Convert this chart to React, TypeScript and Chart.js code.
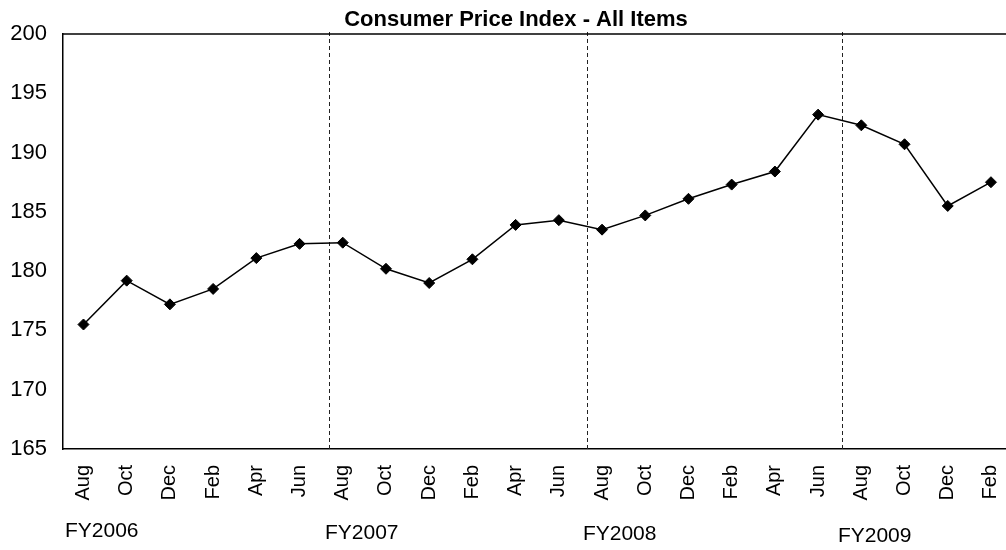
import { useEffect, useRef } from 'react';
import { Chart, registerables } from 'chart.js';

Chart.register(...registerables);

const chartTitle = 'Consumer Price Index - All Items';
const months = [
  'Aug', 'Oct', 'Dec', 'Feb', 'Apr', 'Jun',
  'Aug', 'Oct', 'Dec', 'Feb', 'Apr', 'Jun',
  'Aug', 'Oct', 'Dec', 'Feb', 'Apr', 'Jun',
  'Aug', 'Oct', 'Dec', 'Feb',
];
const cpiValues = [
  175.5, 179.2, 177.2, 178.5, 181.1, 182.3,
  182.4, 180.2, 179.0, 181.0, 183.9, 184.3,
  183.5, 184.7, 186.1, 187.3, 188.4, 193.2,
  192.3, 190.7, 185.5, 187.5,
];
const fiscalYears = ['FY2006', 'FY2007', 'FY2008', 'FY2009'];
// fiscal-year boundaries, in month-index units of the x axis
const fyBoundaries = [5.68, 11.65, 17.55];
const yTicks = [165, 170, 175, 180, 185, 190, 195, 200];

const FONT = '"Liberation Sans", Arial, Helvetica, sans-serif';

const decorPlugin = {
  id: 'decor',
  beforeDatasetsDraw(chart: any) {
    const { ctx, chartArea, scales } = chart;
    const x = scales.x;
    ctx.save();
    ctx.strokeStyle = '#222';
    ctx.lineWidth = 1;
    ctx.setLineDash([4, 3]);
    fyBoundaries.forEach((b) => {
      const px = Math.round(x.getPixelForValue(b)) + 0.5;
      ctx.beginPath();
      ctx.moveTo(px, chartArea.top - 2);
      ctx.lineTo(px, chartArea.bottom);
      ctx.stroke();
    });
    ctx.setLineDash([]);
    ctx.strokeStyle = '#000';
    ctx.lineWidth = 1.5;
    ctx.beginPath();
    ctx.moveTo(chartArea.left, chartArea.top);
    ctx.lineTo(chartArea.right, chartArea.top);
    ctx.stroke();
    ctx.restore();
  },
  afterDraw(chart: any) {
    const { ctx, chartArea, scales } = chart;
    const x = scales.x;
    ctx.save();
    ctx.fillStyle = '#000';
    ctx.textBaseline = 'alphabetic';
    ctx.textAlign = 'center';
    ctx.font = `bold 22px ${FONT}`;
    ctx.fillText(chartTitle, 516, 26);
    ctx.textAlign = 'left';
    ctx.font = `21px ${FONT}`;
    fiscalYears.forEach((fy, i) => {
      const px = i === 0 ? chartArea.left + 2 : x.getPixelForValue(fyBoundaries[i - 1]) - 4;
      ctx.fillText(fy, px, 537 + i * 1.5);
    });
    ctx.restore();
  },
};

export default function App() {
  const ref = useRef<HTMLCanvasElement>(null);

  useEffect(() => {
    if (!ref.current) return;
    const chart = new Chart(ref.current, {
      type: 'line',
      data: {
        datasets: [
          {
            data: cpiValues.map((v, i) => ({ x: i, y: v })),
            borderColor: '#000',
            backgroundColor: '#000',
            borderWidth: 1.5,
            tension: 0,
            pointStyle: 'rectRot',
            pointRadius: 5.5,
            pointBorderWidth: 1,
            pointBackgroundColor: '#000',
            pointBorderColor: '#000',
          },
        ],
      },
      options: {
        animation: false,
        responsive: false,
        events: [],
        layout: { autoPadding: false, padding: { top: 34, left: 0, right: 0, bottom: 0 } },
        plugins: {
          legend: { display: false },
          tooltip: { enabled: false },
          title: { display: false },
        },
        scales: {
          x: {
            type: 'linear',
            min: -0.474,
            max: 21.348,
            grid: { display: false, drawTicks: false },
            border: { display: true, color: '#000', width: 1.5 },
            afterBuildTicks: (scale: any) => {
              scale.ticks = months.map((_, i) => ({ value: i }));
            },
            afterFit: (scale: any) => {
              scale.height = 101;
              scale.paddingLeft = 0;
              scale.paddingRight = 0;
            },
            ticks: {
              autoSkip: false,
              minRotation: 90,
              maxRotation: 90,
              padding: 16,
              color: '#000',
              font: { family: FONT, size: 20 },
              callback: (v: any) => months[v as number] ?? '',
            },
          },
          y: {
            type: 'linear',
            min: 165,
            max: 200,
            grid: { display: false, drawTicks: false },
            border: { display: true, color: '#000', width: 1.5 },
            afterBuildTicks: (scale: any) => {
              scale.ticks = yTicks.map((v) => ({ value: v }));
            },
            afterFit: (scale: any) => {
              scale.width = 63;
            },
            ticks: {
              padding: 16,
              color: '#000',
              font: { family: FONT, size: 22 },
            },
          },
        },
      },
      plugins: [decorPlugin],
    });
    return () => chart.destroy();
  }, []);

  return (
    <div
      style={{
        position: 'fixed',
        left: 0,
        top: 0,
        width: 1006,
        height: 550,
        background: '#fff',
        overflow: 'hidden',
      }}
    >
      <canvas ref={ref} width={1006} height={550} style={{ display: 'block' }} />
    </div>
  );
}
